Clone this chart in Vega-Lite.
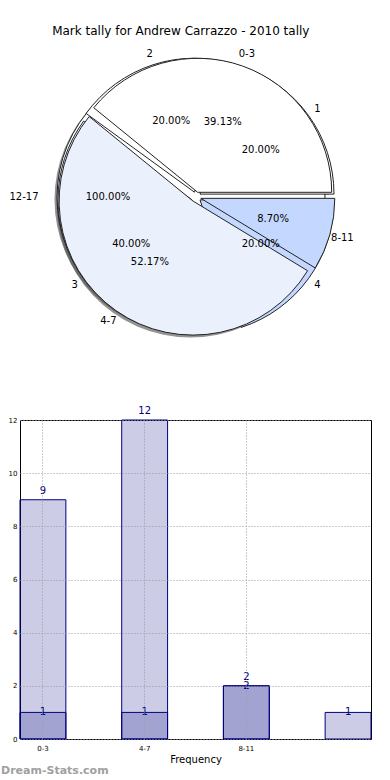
{
  "$schema": "https://vega.github.io/schema/vega-lite/v6.json",
  "padding": {"left": -11, "top": 25, "right": 0, "bottom": 0},
  "bounds": "flush",
  "spacing": 73,
  "title": {"text": "Mark tally for Andrew Carrazzo - 2010 tally", "font": "DejaVu Sans", "fontSize": 12, "fontWeight": "normal", "color": "black", "anchor": "middle", "offset": 9},
  "config": {"view": {"stroke": null}, "font": "DejaVu Sans"},
  "datasets": {
    "main": [
      {"range": "0-3", "count": 9, "pct": "39.13%"},
      {"range": "4-7", "count": 12, "pct": "52.17%"},
      {"range": "8-11", "count": 2, "pct": "8.70%"}
    ],
    "second": [
      {"range": "1", "count": 1, "pct": "20.00%"},
      {"range": "2", "count": 1, "pct": "20.00%"},
      {"range": "3", "count": 2, "pct": "40.00%"},
      {"range": "4", "count": 1, "pct": "20.00%"}
    ],
    "third": [
      {"range": "12-17", "count": 1, "pct": "100.00%"}
    ],
    "bars": [
      {"range": "0-3", "series": "A", "count": 9},
      {"range": "4-7", "series": "A", "count": 12},
      {"range": "8-11", "series": "A", "count": 2},
      {"range": "0-3", "series": "B", "count": 1},
      {"range": "4-7", "series": "B", "count": 1},
      {"range": "8-11", "series": "B", "count": 2},
      {"range": "12-17", "series": "B", "count": 1}
    ]
  },
  "vconcat": [
    {
      "width": 352,
      "height": 300,
      "layer": [
        {"data": {"name": "third"}, "transform": [{"stack": "count", "groupby": [], "as": ["t0", "t1"], "offset": "normalize"}],
         "mark": {"type": "arc", "outerRadius": 134, "fill": "#4d4d4d", "fillOpacity": 0.6, "xOffset": -7.5, "yOffset": 2.5},
         "encoding": {"theta": {"field": "t0", "type": "quantitative", "stack": null, "scale": {"domain": [0, 1], "range": [1.5708, -4.7124]}}, "theta2": {"field": "t1"}}},
        {"data": {"name": "main"}, "transform": [{"stack": "count", "groupby": [], "as": ["t0", "t1"], "offset": "normalize"}, {"filter": {"field": "range", "equal": "0-3"}}],
         "mark": {"type": "arc", "outerRadius": 134, "fill": "#4d4d4d", "fillOpacity": 0.5, "xOffset": -0.8, "yOffset": -2.2},
         "encoding": {"theta": {"field": "t0", "type": "quantitative", "stack": null, "scale": {"domain": [0, 1], "range": [1.5708, -4.7124]}}, "theta2": {"field": "t1"}}},
        {"data": {"name": "main"}, "transform": [{"stack": "count", "groupby": [], "as": ["t0", "t1"], "offset": "normalize"}, {"filter": {"field": "range", "equal": "4-7"}}],
         "mark": {"type": "arc", "outerRadius": 134, "fill": "#4d4d4d", "fillOpacity": 0.6, "xOffset": -5.4, "yOffset": 6.6},
         "encoding": {"theta": {"field": "t0", "type": "quantitative", "stack": null, "scale": {"domain": [0, 1], "range": [1.5708, -4.7124]}}, "theta2": {"field": "t1"}}},
        {"data": {"name": "third"}, "transform": [{"stack": "count", "groupby": [], "as": ["t0", "t1"], "offset": "normalize"}],
         "mark": {"type": "arc", "outerRadius": 134, "fill": "white", "stroke": "#222", "strokeWidth": 1, "xOffset": -5, "yOffset": 0},
         "encoding": {"theta": {"field": "t0", "type": "quantitative", "stack": null, "scale": {"domain": [0, 1], "range": [1.5708, -4.7124]}}, "theta2": {"field": "t1"}}},
        {"data": {"name": "second"}, "transform": [{"stack": "count", "groupby": [], "as": ["t0", "t1"], "offset": "normalize"}, {"filter": {"field": "range", "equal": "1"}}],
         "mark": {"type": "arc", "outerRadius": 134, "fill": "white", "stroke": "#222", "strokeWidth": 1, "xOffset": 4, "yOffset": -2.9},
         "encoding": {"theta": {"field": "t0", "type": "quantitative", "stack": null, "scale": {"domain": [0, 1], "range": [1.5708, -4.7124]}}, "theta2": {"field": "t1"}}},
        {"data": {"name": "second"}, "transform": [{"stack": "count", "groupby": [], "as": ["t0", "t1"], "offset": "normalize"}, {"filter": {"field": "range", "equal": "2"}}],
         "mark": {"type": "arc", "outerRadius": 134, "fill": "white", "stroke": "#222", "strokeWidth": 1, "xOffset": -1.5, "yOffset": -4.8},
         "encoding": {"theta": {"field": "t0", "type": "quantitative", "stack": null, "scale": {"domain": [0, 1], "range": [1.5708, -4.7124]}}, "theta2": {"field": "t1"}}},
        {"data": {"name": "second"}, "transform": [{"stack": "count", "groupby": [], "as": ["t0", "t1"], "offset": "normalize"}, {"filter": {"field": "range", "equal": "3"}}],
         "mark": {"type": "arc", "outerRadius": 134, "fill": "#eaf1fd", "stroke": "#222", "strokeWidth": 1, "xOffset": -4, "yOffset": 2.9},
         "encoding": {"theta": {"field": "t0", "type": "quantitative", "stack": null, "scale": {"domain": [0, 1], "range": [1.5708, -4.7124]}}, "theta2": {"field": "t1"}}},
        {"data": {"name": "second"}, "transform": [{"stack": "count", "groupby": [], "as": ["t0", "t1"], "offset": "normalize"}, {"filter": {"field": "range", "equal": "4"}}],
         "mark": {"type": "arc", "outerRadius": 134, "fill": "#c4d8ff", "stroke": "#222", "strokeWidth": 1, "xOffset": 4, "yOffset": 2.9},
         "encoding": {"theta": {"field": "t0", "type": "quantitative", "stack": null, "scale": {"domain": [0, 1], "range": [1.5708, -4.7124]}}, "theta2": {"field": "t1"}}},
        {"data": {"name": "main"}, "transform": [{"stack": "count", "groupby": [], "as": ["t0", "t1"], "offset": "normalize"}, {"filter": {"field": "range", "equal": "0-3"}}],
         "mark": {"type": "arc", "outerRadius": 134, "fill": "white", "stroke": "#222", "strokeWidth": 1, "xOffset": 1.7, "yOffset": -4.7},
         "encoding": {"theta": {"field": "t0", "type": "quantitative", "stack": null, "scale": {"domain": [0, 1], "range": [1.5708, -4.7124]}}, "theta2": {"field": "t1"}}},
        {"data": {"name": "main"}, "transform": [{"stack": "count", "groupby": [], "as": ["t0", "t1"], "offset": "normalize"}, {"filter": {"field": "range", "equal": "4-7"}}],
         "mark": {"type": "arc", "outerRadius": 134, "fill": "#eaf1fd", "stroke": "#222", "strokeWidth": 1, "xOffset": -2.9, "yOffset": 4.1},
         "encoding": {"theta": {"field": "t0", "type": "quantitative", "stack": null, "scale": {"domain": [0, 1], "range": [1.5708, -4.7124]}}, "theta2": {"field": "t1"}}},
        {"data": {"name": "main"}, "transform": [{"stack": "count", "groupby": [], "as": ["t0", "t1"], "offset": "normalize"}, {"filter": {"field": "range", "equal": "8-11"}}],
         "mark": {"type": "arc", "outerRadius": 134, "fill": "#c4d8ff", "stroke": "#222", "strokeWidth": 1, "xOffset": 4.8, "yOffset": 1.35},
         "encoding": {"theta": {"field": "t0", "type": "quantitative", "stack": null, "scale": {"domain": [0, 1], "range": [1.5708, -4.7124]}}, "theta2": {"field": "t1"}}},
        {"data": {"name": "main"},
         "mark": {"type": "text", "radius": 152, "fontSize": 10, "font": "DejaVu Sans", "color": "black"},
         "encoding": {"theta": {"field": "count", "type": "quantitative", "stack": "normalize", "scale": {"domain": [0, 1], "range": [1.5708, -4.7124]}}, "order": {"field": "range"}, "text": {"field": "range"}}},
        {"data": {"name": "main"},
         "mark": {"type": "text", "radius": 80, "fontSize": 10, "font": "DejaVu Sans", "color": "black"},
         "encoding": {"theta": {"field": "count", "type": "quantitative", "stack": "normalize", "scale": {"domain": [0, 1], "range": [1.5708, -4.7124]}}, "order": {"field": "range"}, "text": {"field": "pct"}}},
        {"data": {"name": "second"},
         "mark": {"type": "text", "radius": 150, "fontSize": 10, "font": "DejaVu Sans", "color": "black"},
         "encoding": {"theta": {"field": "count", "type": "quantitative", "stack": "normalize", "scale": {"domain": [0, 1], "range": [1.5708, -4.7124]}}, "order": {"field": "range"}, "text": {"field": "range"}}},
        {"data": {"name": "second"},
         "mark": {"type": "text", "radius": 80, "fontSize": 10, "font": "DejaVu Sans", "color": "black"},
         "encoding": {"theta": {"field": "count", "type": "quantitative", "stack": "normalize", "scale": {"domain": [0, 1], "range": [1.5708, -4.7124]}}, "order": {"field": "range"}, "text": {"field": "pct"}}},
        {"data": {"name": "third"},
         "mark": {"type": "text", "radius": 172, "fontSize": 10, "font": "DejaVu Sans", "color": "black"},
         "encoding": {"theta": {"field": "count", "type": "quantitative", "stack": "normalize", "scale": {"domain": [0, 1], "range": [1.5708, -4.7124]}}, "order": {"field": "range"}, "text": {"field": "range"}}},
        {"data": {"name": "third"},
         "mark": {"type": "text", "radius": 88, "fontSize": 10, "font": "DejaVu Sans", "color": "black"},
         "encoding": {"theta": {"field": "count", "type": "quantitative", "stack": "normalize", "scale": {"domain": [0, 1], "range": [1.5708, -4.7124]}}, "order": {"field": "range"}, "text": {"field": "pct"}}}
      ]
    },
    {
      "width": 351,
      "height": 319,
      "view": {"stroke": "black", "strokeWidth": 1},
      "title": {"text": "Dream-Stats.com", "orient": "bottom", "anchor": "start", "frame": "group", "dx": -19, "offset": 1, "fontSize": 11, "fontWeight": "bold", "color": "#a0a0a0", "font": "DejaVu Sans"},
      "data": {"name": "bars"},
      "encoding": {
        "x": {"field": "range", "type": "nominal", "sort": null,
              "scale": {"domain": ["0-3", "4-7", "8-11", "12-17"], "paddingInner": 0.549, "paddingOuter": 0},
              "axis": {"values": ["0-3", "4-7", "8-11"], "labelAngle": 0, "labelFontSize": 7, "labelColor": "black", "labelPadding": 5, "ticks": false, "domain": false, "grid": true, "gridColor": "#999", "gridDash": [1, 2], "bandPosition": 0.5, "title": "Frequency", "titleFontSize": 10, "titleFontWeight": "normal", "titleColor": "black", "titlePadding": 3, "zindex": 1}},
        "y": {"field": "count", "type": "quantitative", "stack": null,
              "scale": {"domain": [0, 12], "nice": false},
              "axis": {"values": [0, 2, 4, 6, 8, 10, 12], "labelFontSize": 7, "labelColor": "black", "labelPadding": 3, "ticks": false, "domain": false, "grid": true, "gridColor": "#999", "gridDash": [1, 2], "title": "Distribution", "titleFontSize": 10, "titleFontWeight": "normal", "titleColor": "black", "titlePadding": 8, "zindex": 1}}
      },
      "layer": [
        {"mark": {"type": "bar", "fill": "#000080", "fillOpacity": 0.2, "stroke": "#000080", "strokeWidth": 1}},
        {"transform": [{"filter": {"field": "series", "equal": "A"}}],
         "mark": {"type": "text", "baseline": "bottom", "dy": -4, "color": "#000080", "fontSize": 10, "font": "DejaVu Sans"},
         "encoding": {"text": {"field": "count"}}},
        {"transform": [{"filter": {"field": "series", "equal": "B"}}],
         "mark": {"type": "text", "baseline": "middle", "color": "#000080", "fontSize": 10, "font": "DejaVu Sans"},
         "encoding": {"text": {"field": "count"}}}
      ]
    }
  ]
}
